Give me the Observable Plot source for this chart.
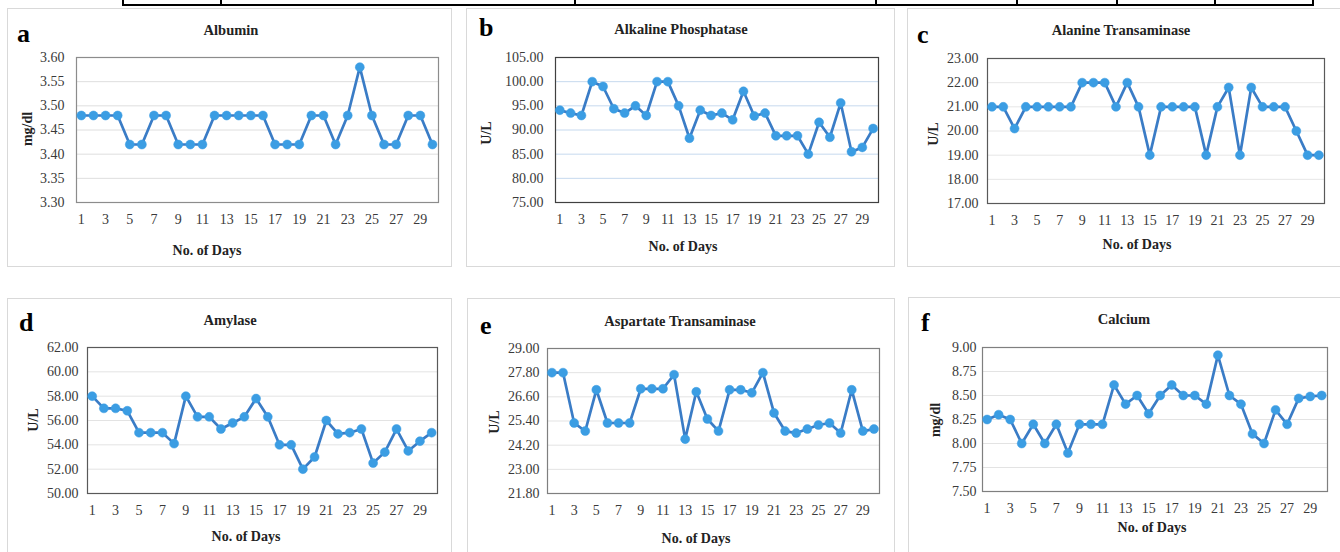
<!DOCTYPE html>
<html>
<head>
<meta charset="utf-8">
<script src="https://cdn.jsdelivr.net/npm/d3@7"></script>
<script src="https://cdn.jsdelivr.net/npm/@observablehq/plot@0.6"></script>
<style>
  html, body { margin: 0; padding: 0; background: #fff; }
  #root { position: relative; width: 1340px; height: 552px; overflow: hidden; font-family: "Liberation Serif", "Times New Roman", serif; }
  .box { position: absolute; border: 1px solid #d9d9d9; box-sizing: border-box; }
  .abs { position: absolute; white-space: nowrap; }
  .letter { font-weight: bold; font-size: 26px; color: #000; line-height: 1; }
  .title { font-weight: bold; font-size: 14.5px; color: #222; line-height: 1; transform: translate(-50%, -50%); }
  .xt { font-weight: bold; font-size: 14px; color: #222; line-height: 1; transform: translate(-50%, -50%); }
  .yt { font-weight: bold; font-size: 14px; color: #222; line-height: 1; transform: translate(-50%, -50%) rotate(-90deg); }
  .rule { position: absolute; background: #000; }
</style>
</head>
<body>
<div id="root"></div>
<script>
// ---- data ----
const days = [1,2,3,4,5,6,7,8,9,10,11,12,13,14,15,16,17,18,19,20,21,22,23,24,25,26,27,28,29,30];
const xTickDays = [1,3,5,7,9,11,13,15,17,19,21,23,25,27,29];

const albumin = [3.48,3.48,3.48,3.48,3.42,3.42,3.48,3.48,3.42,3.42,3.42,3.48,3.48,3.48,3.48,3.48,3.42,3.42,3.42,3.48,3.48,3.42,3.48,3.58,3.48,3.42,3.42,3.48,3.48,3.42];
const alkalinePhosphatase = [94.1,93.5,93.0,100,99,94.4,93.5,95,93,100,100,95,88.3,94.1,93,93.5,92.1,98,92.9,93.5,88.8,88.8,88.8,85,91.6,88.5,95.6,85.5,86.4,90.3];
const alanineTransaminase = [21,21,20.1,21,21,21,21,21,22,22,22,21,22,21,19,21,21,21,21,19,21,21.8,19,21.8,21,21,21,20,19,19];
const amylase = [58,57,57,56.8,55,55,55,54.1,58,56.3,56.3,55.3,55.8,56.3,57.8,56.3,54,54,52,53,56,54.9,55,55.3,52.5,53.4,55.3,53.5,54.3,55];
const aspartateTransaminase = [27.8,27.8,25.3,24.9,26.95,25.3,25.3,25.3,27.0,27.0,27.0,27.7,24.5,26.85,25.5,24.9,26.95,26.95,26.8,27.8,25.8,24.9,24.8,25.0,25.2,25.3,24.8,26.95,24.9,25.0];
const calcium = [8.25,8.30,8.25,8.0,8.2,8.0,8.2,7.9,8.2,8.2,8.2,8.61,8.41,8.5,8.31,8.5,8.61,8.5,8.5,8.41,8.92,8.5,8.41,8.1,8.0,8.35,8.2,8.47,8.49,8.5];

const ticksAlbumin = [3.30,3.35,3.40,3.45,3.50,3.55,3.60];
const ticksALP = [75,80,85,90,95,100,105];
const ticksALT = [17,18,19,20,21,22,23];
const ticksAmylase = [50,52,54,56,58,60,62];
const ticksAST = [21.8,23.0,24.2,25.4,26.6,27.8,29.0];
const ticksCalcium = [7.50,7.75,8.00,8.25,8.50,8.75,9.00];

const letters = ["a","b","c","d","e","f"];
const titles = ["Albumin","Alkaline Phosphatase","Alanine Transaminase","Amylase","Aspartate Transaminase","Calcium"];
const units = ["mg/dl","U/L","U/L","U/L","U/L","mg/dl"];
const xTitle = "No. of Days";

// ---- layout ----
const root = document.getElementById("root");
function el(cls, text, css) {
  const d = document.createElement("div");
  d.className = cls;
  if (text != null) d.textContent = text;
  Object.assign(d.style, css);
  root.appendChild(d);
  return d;
}

// remnant table rule at the very top of the page
el("rule", null, {left: "122px", top: "4px", width: "1192px", height: "2px"});
for (const x of [122, 220, 574, 875, 1016, 1116, 1214, 1312]) {
  el("rule", null, {left: x + "px", top: "0px", width: "2px", height: "6px"});
}

const panels = [
  {values: albumin, ticks: ticksAlbumin, box: [7,8,452,267], frame: [76,57,438,202], grid: "#dedede", frameColor: "#8c8c8c",
   letter: [17,21], title: [231,30], xt: [207,251], yt: [28,129], yPad: 12},
  {values: alkalinePhosphatase, ticks: ticksALP, box: [466,8,895,267], frame: [555,57,878,202], grid: "#c6d9ee", frameColor: "#404040",
   letter: [479,15], title: [681,29], xt: [683,247], yt: [487,133], yPad: 12},
  {values: alanineTransaminase, ticks: ticksALT, box: [907,8,1345,267], frame: [987,58,1324,203], grid: "#e6e6e6", frameColor: "#595959",
   letter: [917,22], title: [1121,30], xt: [1137,245], yt: [934,134], yPad: 9},
  {values: amylase, ticks: ticksAmylase, box: [7,298,452,560], frame: [87,347,437,493], grid: "#e3e3e3", frameColor: "#595959",
   letter: [19,310], title: [230,320], xt: [246,537], yt: [34,420], yPad: 9},
  {values: aspartateTransaminase, ticks: ticksAST, box: [467,298,895,560], frame: [547,348,879,493], grid: "#e3e3e3", frameColor: "#7f7f7f",
   letter: [480,313], title: [680,321], xt: [696,539], yt: [495,422], yPad: 8},
  {values: calcium, ticks: ticksCalcium, box: [908,297,1345,560], frame: [982,347,1327,491], grid: "#e3e3e3", frameColor: "#7f7f7f",
   letter: [921,310], title: [1124,319], xt: [1152,528], yt: [936,420], yPad: 6}
];

const ML = 70, MR = 10, MT = 10, MB = 30;

panels.forEach((p, i) => {
  const [bx0, by0, bx1, by1] = p.box;
  el("box", null, {left: bx0 + "px", top: by0 + "px", width: (bx1 - bx0) + "px", height: (by1 - by0) + "px"});

  const [fx0, fy0, fx1, fy1] = p.frame;
  const data = days.map((d, k) => ({day: d, value: p.values[k]}));
  const yMin = p.ticks[0], yMax = p.ticks[p.ticks.length - 1];

  const chart = Plot.plot({
    width: (fx1 - fx0) + ML + MR,
    height: (fy1 - fy0) + MT + MB,
    marginLeft: ML, marginRight: MR, marginTop: MT, marginBottom: MB,
    style: {fontFamily: '"Liberation Serif", "Times New Roman", serif', fontSize: "14px", color: "#333", background: "transparent", overflow: "visible"},
    x: {domain: [0.6, 30.5], label: null},
    y: {domain: [yMin, yMax], label: null},
    marks: [
      Plot.gridY(p.ticks, {stroke: p.grid, strokeOpacity: 1, strokeWidth: 1}),
      Plot.frame({stroke: p.frameColor, strokeWidth: 1.2}),
      Plot.axisX(xTickDays, {tickSize: 0, tickPadding: 12, label: null, fill: "#3a3a3a"}),
      Plot.axisY(p.ticks, {tickSize: 0, tickPadding: p.yPad, tickFormat: v => v.toFixed(2), label: null, fill: "#3a3a3a"}),
      Plot.line(data, {x: "day", y: "value", stroke: "#3a7cc6", strokeWidth: 2.7}),
      Plot.dot(data, {x: "day", y: "value", r: 4.5, fill: "#3b9de3", stroke: "#3b9de3", strokeWidth: 0.5})
    ]
  });
  chart.style.position = "absolute";
  chart.style.left = (fx0 - ML) + "px";
  chart.style.top = (fy0 - MT) + "px";
  root.appendChild(chart);

  el("abs letter", letters[i], {left: p.letter[0] + "px", top: p.letter[1] + "px"});
  el("abs title", titles[i], {left: p.title[0] + "px", top: p.title[1] + "px"});
  el("abs xt", xTitle, {left: p.xt[0] + "px", top: p.xt[1] + "px"});
  el("abs yt", units[i], {left: p.yt[0] + "px", top: p.yt[1] + "px"});
});
</script>
</body>
</html>
